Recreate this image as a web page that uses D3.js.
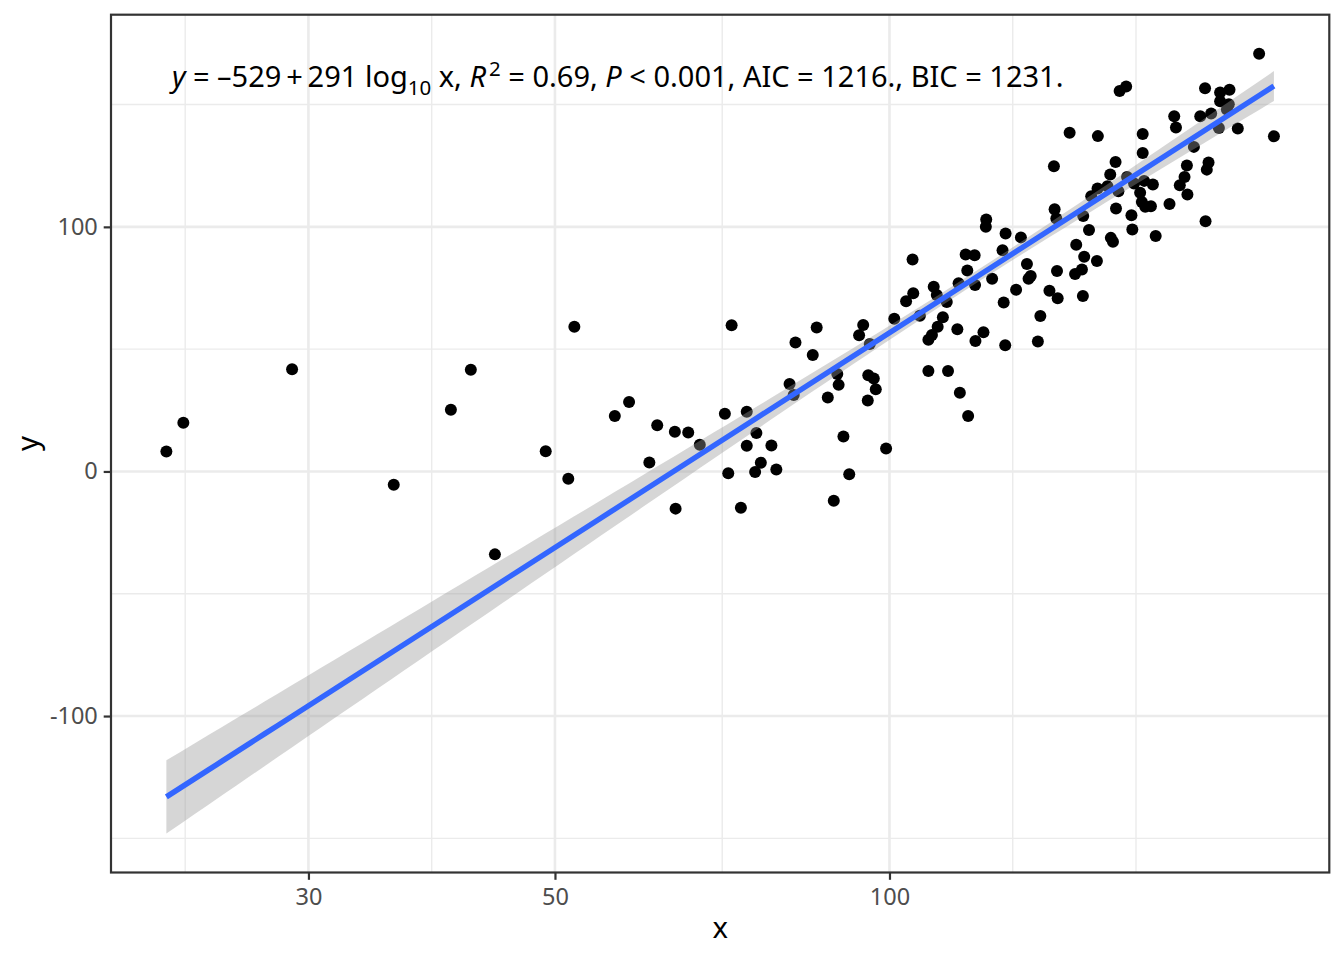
<!DOCTYPE html>
<html>
<head>
<meta charset="utf-8">
<script src="https://cdn.jsdelivr.net/npm/d3@7"></script>
<style>
  body { margin: 0; background: #fff; }
  svg { display: block; font-family: "Noto Sans", "DejaVu Sans", sans-serif; }
</style>
</head>
<body>
<script>
const xVals = [
  22.35, 23.15, 29.0, 35.8, 42.0, 40.3, 49.05, 51.4, 52.05, 44.15,
  72.1, 82.3, 85.3, 81.3, 82.0, 56.6, 58.3, 61.8, 64.1, 65.9,
  67.5, 60.8, 71.1, 74.4, 75.9, 74.4, 78.3, 76.6, 75.7, 79.1,
  71.6, 64.2, 73.5,
  86.0, 88.0, 89.75, 90.0, 90.9, 92.0, 89.1, 94.7, 93.9, 96.0,
  95.7, 96.8, 97.2, 95.6, 99.3, 101.0, 104.9, 105.05, 103.5, 106.5,
  109.6, 110.3, 112.6, 111.7, 110.5, 109.2, 108.4, 115.1, 108.4, 112.9,
  115.7, 117.7, 117.1, 119.3, 117.5, 115.4, 119.4, 119.5,
  121.5, 122.2, 122.1, 127.2, 126.4, 123.7, 131.3, 132.95, 133.4, 130.0,
  126.7, 127.1, 136.7, 136.0,
  145.25, 154.0, 169.0, 169.0, 140.6, 159.75, 158.0, 163.6, 153.9, 151.9,
  157.1, 160.7, 166.0, 169.5, 172.6, 168.1, 168.7, 169.9, 171.9, 159.9,
  165.1, 165.4, 173.6, 140.8, 141.3, 149.4, 151.2, 158.2, 158.9, 147.25,
  149.7, 153.7, 149.0, 146.9, 141.5, 139.3, 141.7, 149.3, 134.0,
  215.1, 192.3, 198.4, 202.3, 198.4, 202.0, 201.2, 180.4, 181.05, 190.4,
  194.75, 197.9, 205.8, 221.8, 187.9, 185.2, 193.7, 193.0, 184.3, 182.5,
  185.4, 178.65, 192.5,
  161.1, 163.3
];
const yVals = [
  8.2, 19.9, 41.8, -5.4, 41.6, 25.2, 8.3, -3.0, 59.2, -33.9,
  59.8, 52.7, 47.6, 35.8, 31.3, 22.7, 28.4, 18.9, 16.2, 15.9,
  10.9, 3.7, 23.6, 24.4, 15.7, 10.5, 10.6, 3.6, -0.2, 0.8,
  -0.7, -15.2, -14.8,
  58.9, 30.2, 39.8, 35.4, 14.3, -1.1, -12.0, 59.9, 55.7, 52.1,
  39.3, 38.0, 33.6, 29.0, 9.4, 62.4, 86.7, 72.9, 69.6, 63.7,
  75.5, 72.1, 69.3, 63.0, 59.2, 55.8, 53.8, 58.1, 41.1, 41.1,
  32.2, 22.7, 88.7, 88.4, 82.2, 76.9, 76.2, 53.3,
  56.9, 103.0, 100.0, 97.3, 90.4, 78.8, 95.7, 84.8, 78.8, 74.3,
  69.1, 51.6, 63.6, 53.1,
  138.5, 137.1, 138.0, 130.2, 124.8, 126.5, 121.4, 120.4, 115.7, 112.5,
  116.6, 114.6, 117.7, 118.8, 117.3, 113.9, 110.2, 108.2, 108.4, 107.5,
  104.7, 98.9, 96.3, 107.2, 103.4, 104.4, 98.7, 95.5, 93.9, 92.7,
  87.8, 86.0, 82.6, 80.7, 82.0, 73.9, 70.8, 71.7, 79.9,
  170.8, 156.7, 154.9, 156.1, 151.4, 150.1, 148.0, 145.2, 140.6, 145.2,
  146.3, 140.4, 140.2, 137.0, 132.7, 125.1, 126.3, 123.4, 120.4, 117.0,
  113.2, 109.3, 102.3,
  155.5, 157.4
];

// fitted model y ~ log10(x), as drawn in the reference
const fitCoef = [-526.5, 291.6];      // intercept, slope
const bandCentre = 2.073;             // log10 x where the 95% band is narrowest
const bandHalfMin = 2.5;              // band half-width there
const bandHalfGrowth = 20.4;          // growth of half-width per log10 unit

// axis breaks and labels
const xBreaks = [30, 50, 100];
const yBreaks = [-100, 0, 100];
const xTitle = "x";
const yTitle = "y";

// fitted-model annotation, split into plotmath pieces
const eqPieces = ["y", " = \u2013529\u2009+\u2009291 log", "10", " x, ", "R", "2",
  " = 0.69, ", "P", " < 0.001, AIC = 1216., BIC = 1231."];

// ---------------------------------------------------------------------------
const width = 1344, height = 960;
const panel = { left: 111, right: 1329.3, top: 14.7, bottom: 872.5 };

const svg = d3.select("body").append("svg")
  .attr("width", width)
  .attr("height", height)
  .attr("viewBox", [0, 0, width, height]);

const data = xVals.map((x, i) => ({ x, y: yVals[i], lx: Math.log10(x) }));

// smooth over the data range, 80 points like geom_smooth
const lxExt = d3.extent(data, d => d.lx);
const fit = d3.range(80).map(i => {
  const lx = lxExt[0] + (lxExt[1] - lxExt[0]) * i / 79;
  const yhat = fitCoef[0] + fitCoef[1] * lx;
  const half = Math.sqrt(bandHalfMin ** 2 + (bandHalfGrowth * (lx - bandCentre)) ** 2);
  return { x: Math.pow(10, lx), y: yhat, lo: yhat - half, hi: yhat + half };
});

// scales with ggplot's 5% expansion
const lw = lxExt[1] - lxExt[0];
const x = d3.scaleLog()
  .domain([Math.pow(10, lxExt[0] - 0.05 * lw), Math.pow(10, lxExt[1] + 0.05 * lw)])
  .range([panel.left, panel.right]);

const yLo = Math.min(d3.min(data, d => d.y), d3.min(fit, d => d.lo));
const yHi = Math.max(d3.max(data, d => d.y), d3.max(fit, d => d.hi));
const yw = yHi - yLo;
const y = d3.scaleLinear()
  .domain([yLo - 0.05 * yw, yHi + 0.05 * yw])
  .range([panel.bottom, panel.top]);

// minor breaks, the way scales::regular_minor_breaks places them
function minorBreaks(major, lim) {
  const b = major.slice();
  const bd = b[1] - b[0];
  if (lim[0] < b[0]) b.unshift(b[0] - bd);
  if (lim[1] > b[b.length - 1]) b.push(b[b.length - 1] + bd);
  const mids = d3.pairs(b).map(([a, c]) => (a + c) / 2);
  return b.concat(mids)
    .filter(v => v >= lim[0] && v <= lim[1] && !major.includes(v));
}
const xLim = x.domain().map(Math.log10);
const xMinor = minorBreaks(xBreaks.map(Math.log10), xLim).map(v => Math.pow(10, v));
const yMinor = minorBreaks(yBreaks, y.domain());

// panel grid
const grid = svg.append("g").attr("fill", "none").attr("stroke", "#ebebeb");
grid.selectAll(".xminor").data(xMinor).join("line")
  .attr("x1", d => x(d)).attr("x2", d => x(d))
  .attr("y1", panel.top).attr("y2", panel.bottom)
  .attr("stroke-width", 1.4);
grid.selectAll(".yminor").data(yMinor).join("line")
  .attr("y1", d => y(d)).attr("y2", d => y(d))
  .attr("x1", panel.left).attr("x2", panel.right)
  .attr("stroke-width", 1.4);
grid.selectAll(".xmajor").data(xBreaks).join("line")
  .attr("x1", d => x(d)).attr("x2", d => x(d))
  .attr("y1", panel.top).attr("y2", panel.bottom)
  .attr("stroke-width", 2.6);
grid.selectAll(".ymajor").data(yBreaks).join("line")
  .attr("y1", d => y(d)).attr("y2", d => y(d))
  .attr("x1", panel.left).attr("x2", panel.right)
  .attr("stroke-width", 2.6);

// points
svg.append("g")
  .selectAll("circle")
  .data(data)
  .join("circle")
  .attr("cx", d => x(d.x))
  .attr("cy", d => y(d.y))
  .attr("r", 6)
  .attr("fill", "#000");

// confidence band and fitted line
svg.append("path")
  .datum(fit)
  .attr("fill", "#999999")
  .attr("fill-opacity", 0.4)
  .attr("d", d3.area().x(d => x(d.x)).y0(d => y(d.lo)).y1(d => y(d.hi)));

svg.append("path")
  .datum(fit)
  .attr("fill", "none")
  .attr("stroke", "#3366ff")
  .attr("stroke-width", 5.4)
  .attr("d", d3.line().x(d => x(d.x)).y(d => y(d.y)));

// equation label
const kinds = ["it", "", "sub", "", "it", "sup", "", "it", ""];
const shift = { sub: 8, sup: -11 };
const eq = svg.append("text")
  .attr("x", panel.left + 0.05 * (panel.right - panel.left))
  .attr("y", 87)
  .attr("font-size", 29)
  .attr("fill", "#000");
let prev = 0;
eqPieces.forEach((t, i) => {
  const k = kinds[i];
  const s = shift[k] || 0;
  eq.append("tspan")
    .attr("dy", s - prev)
    .attr("dx", k === "sup" ? 3 : null)
    .attr("font-style", k === "it" ? "italic" : null)
    .attr("font-size", k === "sub" || k === "sup" ? 20.5 : null)
    .text(t);
  prev = s;
});

// panel border
svg.append("rect")
  .attr("x", panel.left).attr("y", panel.top)
  .attr("width", panel.right - panel.left)
  .attr("height", panel.bottom - panel.top)
  .attr("fill", "none")
  .attr("stroke", "#333333")
  .attr("stroke-width", 2.2);

// axes
const xAxis = svg.append("g")
  .attr("transform", `translate(0,${panel.bottom})`)
  .call(d3.axisBottom(x).tickValues(xBreaks).tickFormat(d3.format("d"))
    .tickSize(7.3).tickPadding(5.9));
const yAxis = svg.append("g")
  .attr("transform", `translate(${panel.left},0)`)
  .call(d3.axisLeft(y).tickValues(yBreaks).tickFormat(d3.format("d"))
    .tickSize(7.3).tickPadding(5.9));
[xAxis, yAxis].forEach(g => {
  g.select(".domain").remove();
  g.selectAll(".tick line").attr("stroke", "#333333").attr("stroke-width", 2.2);
  g.selectAll(".tick text")
    .attr("fill", "#4d4d4d")
    .attr("font-size", 23.5)
    .attr("font-family", "Noto Sans, DejaVu Sans, sans-serif");
});
// d3 format gives the true minus sign; ggplot prints a hyphen
yAxis.selectAll(".tick text").text(d => String(d));
xAxis.selectAll(".tick text").attr("dy", "0.8em");

svg.append("text")
  .attr("x", (panel.left + panel.right) / 2)
  .attr("y", 938)
  .attr("text-anchor", "middle")
  .attr("font-size", 29.3)
  .text(xTitle);

svg.append("text")
  .attr("transform", `translate(38,${(panel.top + panel.bottom) / 2}) rotate(-90)`)
  .attr("text-anchor", "middle")
  .attr("font-size", 29.3)
  .text(yTitle);
</script>
</body>
</html>
